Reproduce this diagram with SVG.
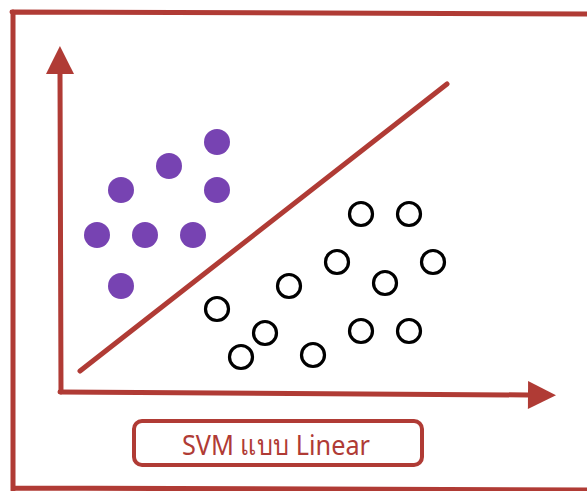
<svg xmlns="http://www.w3.org/2000/svg" width="587" height="491" viewBox="0 0 587 491">
<defs>
<style>
.red{stroke:#B03B35;fill:none;stroke-linecap:round;stroke-linejoin:round}
.frame{stroke-width:5}
.axis{stroke-width:5}
.pos{fill:#7743B2}
.neg{fill:none;stroke:#000;stroke-width:3.2}
.lbl{font-family:"Noto Sans","DejaVu Sans",sans-serif;font-size:28px;fill:#B03B35}
</style>
<marker id="ah" viewBox="0 0 10 10" refX="0" refY="5" markerWidth="7" markerHeight="5.6" markerUnits="strokeWidth" orient="auto">
<path d="M0,0 L10,5 L0,10 Z" fill="#B03B35"/>
</marker>
</defs>
<rect width="587" height="491" fill="#fff"/>
<g id="frame">
<path class="red frame" d="M12,12 L587,14 M13,12 L13,490 M13,488 L587,490"/>
</g>
<g id="connectors">
<path id="y-axis" class="red axis" d="M61,392 L60,74" marker-end="url(#ah)"/>
<path id="x-axis" class="red axis" d="M60,392 L528,395" marker-end="url(#ah)"/>
<path id="separator" class="red" stroke-width="5" d="M80,371 L447,84"/>
</g>
<g id="class-a">
<circle class="pos" cx="217" cy="142" r="13"/>
<circle class="pos" cx="169" cy="166" r="13"/>
<circle class="pos" cx="121" cy="190" r="13"/>
<circle class="pos" cx="217" cy="190" r="13"/>
<circle class="pos" cx="97" cy="235" r="13"/>
<circle class="pos" cx="145" cy="235" r="13"/>
<circle class="pos" cx="193" cy="235" r="13"/>
<circle class="pos" cx="121" cy="286" r="13"/>
</g>
<g id="class-b">
<circle class="neg" cx="361" cy="214" r="11.5"/>
<circle class="neg" cx="409" cy="214" r="11.5"/>
<circle class="neg" cx="337" cy="262" r="11.5"/>
<circle class="neg" cx="433" cy="262" r="11.5"/>
<circle class="neg" cx="385" cy="283" r="11.5"/>
<circle class="neg" cx="289" cy="286" r="11.5"/>
<circle class="neg" cx="217" cy="309" r="11.5"/>
<circle class="neg" cx="265" cy="333" r="11.5"/>
<circle class="neg" cx="361" cy="331" r="11.5"/>
<circle class="neg" cx="409" cy="331" r="11.5"/>
<circle class="neg" cx="241" cy="357" r="11.5"/>
<circle class="neg" cx="313" cy="355" r="11.5"/>
</g>
<g id="label">
<rect class="red" stroke-width="4" x="134" y="421" width="288" height="44" rx="8"/>
<text class="lbl" x="182" y="455" textLength="188" lengthAdjust="spacingAndGlyphs">SVM แบบ Linear</text>
</g>
</svg>
